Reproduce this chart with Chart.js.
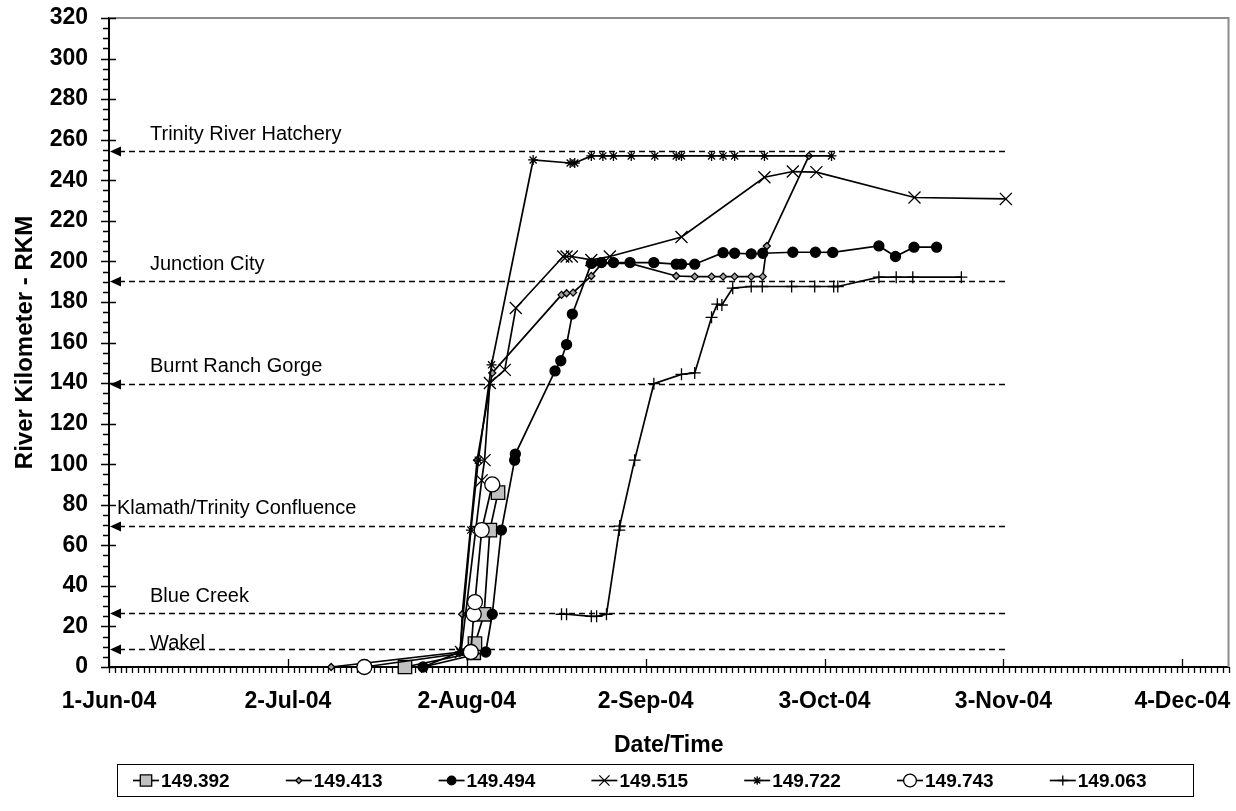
<!DOCTYPE html>
<html>
<head>
<meta charset="utf-8">
<script src="https://cdn.jsdelivr.net/npm/chart.js@4.4.1/dist/chart.umd.min.js"></script>
<style>
  html, body { margin: 0; padding: 0; background: #fff; }
  canvas { display: block; }
</style>
</head>
<body>
<canvas id="rkmChart" width="1236" height="811"></canvas>
<script>
// axis range and tick labels (x ticks every 31 days from 1-Jun-04)
const startDate = '2004-06-01 00';
const endDate = '2004-12-12 00';
const xTickLabels = ['1-Jun-04', '2-Jul-04', '2-Aug-04', '2-Sep-04', '3-Oct-04', '3-Nov-04', '4-Dec-04'];
const yMin = 0, yMax = 320, yStep = 20;

const seriesNames = ['149.392', '149.413', '149.494', '149.515', '149.722', '149.743', '149.063'];

// detections, "YYYY-MM-DD HH" and river km
const dates392 = ['2004-07-22 07', '2004-08-03 05', '2004-08-03 10', '2004-08-05 00', '2004-08-06 00', '2004-08-07 10'];
const rkm392 = [0, 7, 11.5, 26, 67.5, 86];

const dates413 = ['2004-07-09 12', '2004-07-31 22', '2004-08-01 05', '2004-08-03 19', '2004-08-06 10', '2004-08-18 10',
  '2004-08-19 07', '2004-08-20 10', '2004-08-23 14', '2004-08-25 10', '2004-08-30 07', '2004-09-07 07', '2004-09-10 12',
  '2004-09-13 10', '2004-09-15 10', '2004-09-17 10', '2004-09-20 07', '2004-09-22 07', '2004-09-23 00', '2004-09-30 07'];
const rkm413 = [0, 7.4, 26, 102, 145, 183.5, 184.3, 184.6, 192.8, 199, 199, 192.8, 192.5, 192.5, 192.5, 192.5, 192.5, 192.5, 207.6, 252];

const dates494 = ['2004-07-25 10', '2004-08-05 07', '2004-08-06 10', '2004-08-08 00', '2004-08-10 07', '2004-08-10 10',
  '2004-08-17 07', '2004-08-18 07', '2004-08-19 07', '2004-08-20 07', '2004-08-23 14', '2004-08-25 08', '2004-08-27 10',
  '2004-08-30 07', '2004-09-03 10', '2004-09-07 07', '2004-09-08 05', '2004-09-10 12', '2004-09-15 10', '2004-09-17 10',
  '2004-09-20 07', '2004-09-22 07', '2004-09-27 12', '2004-10-01 10', '2004-10-04 10', '2004-10-12 10', '2004-10-15 07',
  '2004-10-18 12', '2004-10-22 10'];
const rkm494 = [0, 7.4, 26, 67.5, 102, 105, 146, 151, 159, 174, 199, 199.4, 199.4, 199.4, 199.4, 198.6, 198.6, 198.6,
  204.3, 204, 203.7, 204, 204.5, 204.5, 204.4, 207.6, 202.4, 207, 207];

const dates515 = ['2004-08-01 00', '2004-08-04 14', '2004-08-05 02', '2004-08-06 00', '2004-08-08 14', '2004-08-10 12',
  '2004-08-18 17', '2004-08-19 07', '2004-08-20 05', '2004-08-23 14', '2004-08-26 19', '2004-09-08 05', '2004-09-22 14',
  '2004-09-27 12', '2004-10-01 14', '2004-10-18 14', '2004-11-03 10'];
const rkm515 = [7.4, 92, 102, 140, 146.5, 177, 202.4, 202.4, 202.4, 200.7, 202.4, 212, 241.5, 244.3, 244, 231.5, 230.8];

const dates722 = ['2004-07-25 10', '2004-07-31 19', '2004-08-02 17', '2004-08-04 00', '2004-08-06 07', '2004-08-13 12',
  '2004-08-19 22', '2004-08-20 17', '2004-08-23 14', '2004-08-25 14', '2004-08-27 10', '2004-08-30 12', '2004-09-03 14',
  '2004-09-07 07', '2004-09-08 05', '2004-09-13 10', '2004-09-15 10', '2004-09-17 10', '2004-09-22 14', '2004-10-04 05'];
const rkm722 = [0, 7.4, 67.5, 102, 149, 250, 248.5, 248.5, 252, 252, 252, 252, 252, 252, 252, 252, 252, 252, 252, 252];

const dates743 = ['2004-07-15 06', '2004-08-02 17', '2004-08-03 05', '2004-08-03 10', '2004-08-04 14', '2004-08-06 10'];
const rkm743 = [0, 7.4, 26, 32, 67.5, 90];

const dates063 = ['2004-08-18 10', '2004-08-19 07', '2004-08-23 14', '2004-08-24 12', '2004-08-26 05', '2004-08-28 10',
  '2004-08-28 12', '2004-08-31 02', '2004-09-03 10', '2004-09-08 05', '2004-09-10 12', '2004-09-13 10', '2004-09-14 10',
  '2004-09-15 05', '2004-09-17 02', '2004-09-20 07', '2004-09-22 05', '2004-09-27 07', '2004-10-01 07', '2004-10-04 14',
  '2004-10-05 07', '2004-10-12 10', '2004-10-15 10', '2004-10-18 07', '2004-10-26 17'];
const rkm063 = [26, 26, 25, 25, 26, 67.5, 69.5, 102, 139.7, 144.3, 145, 172.4, 178.9, 178.5, 186.8, 187.6, 187.6, 187.6,
  187.6, 187.6, 187.6, 192.2, 192.2, 192.2, 192.2];

// landmarks drawn as dashed lines
const refNames = ['Trinity River Hatchery', 'Junction City', 'Burnt Ranch Gorge', 'Klamath/Trinity Confluence', 'Blue Creek', 'Wakel'];
const refRkm = [254.2, 190.5, 139.3, 69.5, 26.6, 8.7];
const refEndDate = '2004-11-03 16';

const FONT = '"Liberation Sans", Arial, sans-serif';

function dayOf(s) {
  const [d, h] = s.split(' ');
  const [yy, mm, dd] = d.split('-').map(Number);
  return (Date.UTC(yy, mm - 1, dd, +(h || 0)) - Date.UTC(2004, 5, 1)) / 864e5;
}

const allDates = [dates392, dates413, dates494, dates515, dates722, dates743, dates063];
const allRkm = [rkm392, rkm413, rkm494, rkm515, rkm722, rkm743, rkm063];

const markerStyles = [
  { pointStyle: 'rect', radius: 9.5, fill: '#c0c0c0' },
  { pointStyle: 'rectRot', radius: 3.5, fill: '#a0a0a0' },
  { pointStyle: 'circle', radius: 5, fill: '#000' },
  { pointStyle: 'crossRot', radius: 8.5, fill: '#000' },
  { pointStyle: 'star', radius: 5, fill: '#000' },
  { pointStyle: 'circle', radius: 7.5, fill: '#fff' },
  { pointStyle: 'cross', radius: 6, fill: '#000' }
];

const datasets = seriesNames.map((name, i) => ({
  label: name,
  data: allDates[i].map((d, j) => ({ x: dayOf(d), y: allRkm[i][j] })),
  showLine: true,
  borderColor: '#000',
  borderWidth: 1.7,
  pointStyle: markerStyles[i].pointStyle,
  pointRadius: markerStyles[i].radius,
  pointBackgroundColor: markerStyles[i].fill,
  pointBorderColor: '#000',
  pointBorderWidth: 1.3,
  clip: false,
  order: seriesNames.length - i
}));

const decor = {
  id: 'decor',
  beforeDatasetsDraw(chart) {
    const { ctx, chartArea: a, scales: { x, y } } = chart;
    ctx.save();
    // plot frame (top, right)
    ctx.strokeStyle = '#8c8c8c';
    ctx.lineWidth = 2;
    ctx.beginPath();
    ctx.moveTo(a.left, a.top);
    ctx.lineTo(a.right, a.top);
    ctx.lineTo(a.right, a.bottom);
    ctx.stroke();

    // major + minor ticks
    ctx.strokeStyle = '#000';
    ctx.lineWidth = 1.3;
    ctx.beginPath();
    for (let v = yMin; v <= yMax; v += 5) {
      const py = Math.round(y.getPixelForValue(v)) + 0.5;
      const major = v % yStep === 0;
      ctx.moveTo(a.left - (major ? 8 : 6), py);
      ctx.lineTo(a.left + (major ? 7 : 0), py);
    }
    for (let d = x.min; d <= x.max; d++) {
      const px = Math.round(x.getPixelForValue(d)) + 0.5;
      const major = (d - x.min) % 31 === 0;
      ctx.moveTo(px, a.bottom + 6);
      ctx.lineTo(px, a.bottom - (major ? 8 : 0));
    }
    ctx.stroke();

    // landmark lines with arrow at the axis
    const xEnd = x.getPixelForValue(dayOf(refEndDate));
    const labelX = [150, 150, 150, 117, 150, 150];
    const labelDy = [-17, -17, -18, -18, -17, -6];
    ctx.font = '20px ' + FONT;
    ctx.textBaseline = 'middle';
    ctx.textAlign = 'left';
    refRkm.forEach((v, i) => {
      const py = Math.round(y.getPixelForValue(v)) + 0.5;
      ctx.setLineDash([6, 4]);
      ctx.lineWidth = 1.7;
      ctx.strokeStyle = '#000';
      ctx.beginPath();
      ctx.moveTo(a.left + 10, py);
      ctx.lineTo(xEnd, py);
      ctx.stroke();
      ctx.setLineDash([]);
      ctx.fillStyle = '#000';
      ctx.beginPath();
      ctx.moveTo(a.left + 1, py);
      ctx.lineTo(a.left + 12, py - 5);
      ctx.lineTo(a.left + 12, py + 5);
      ctx.closePath();
      ctx.fill();
      ctx.fillText(refNames[i], labelX[i], py + labelDy[i]);
    });
    ctx.restore();
  },
  afterDraw(chart) {
    const { ctx } = chart;
    ctx.save();
    ctx.strokeStyle = '#000';
    ctx.lineWidth = 1;
    ctx.strokeRect(117.5, 764.5, 1076, 32);
    const cy = 780.5;
    ctx.font = 'bold 19px ' + FONT;
    ctx.textBaseline = 'middle';
    ctx.textAlign = 'left';
    seriesNames.forEach((name, i) => {
      const x0 = 133 + i * 152.8;
      ctx.strokeStyle = '#000';
      ctx.lineWidth = 1.7;
      ctx.beginPath();
      ctx.moveTo(x0, cy);
      ctx.lineTo(x0 + 26, cy);
      ctx.stroke();
      ctx.fillStyle = markerStyles[i].fill;
      ctx.lineWidth = 1.3;
      Chart.helpers.drawPoint(ctx, {
        pointStyle: markerStyles[i].pointStyle,
        radius: markerStyles[i].radius * 0.85,
        rotation: 0,
        borderWidth: 1.3
      }, x0 + 13, cy);
      ctx.fillStyle = '#000';
      ctx.fillText(name, x0 + 28, cy + 1);
    });
    ctx.restore();
  }
};

new Chart(document.getElementById('rkmChart'), {
  type: 'scatter',
  data: { datasets },
  options: {
    responsive: false,
    animation: false,
    devicePixelRatio: 1,
    layout: { autoPadding: false, padding: { top: 18, right: 7.5, bottom: 52, left: 0 } },
    plugins: { legend: { display: false }, tooltip: { enabled: false } },
    scales: {
      x: {
        type: 'linear',
        min: dayOf(startDate),
        max: dayOf(endDate),
        afterFit: s => { s.height = 92; },
        grid: { display: false, drawTicks: true, tickLength: 21 },
        border: { display: true, color: '#000', width: 2 },
        ticks: {
          stepSize: 31,
          includeBounds: false,
          autoSkip: false,
          maxRotation: 0,
          padding: 0,
          color: '#000',
          font: { family: FONT, size: 23, weight: 'bold' },
          callback: (v, i) => xTickLabels[i]
        },
        title: {
          display: true,
          text: 'Date/Time',
          color: '#000',
          padding: { top: 0, bottom: 0 },
          font: { family: FONT, size: 23, weight: 'bold' }
        }
      },
      y: {
        min: yMin,
        max: yMax,
        afterFit: s => { s.width = 109; },
        grid: { display: false, drawTicks: true, tickLength: 21 },
        border: { display: true, color: '#000', width: 2 },
        ticks: {
          stepSize: yStep,
          padding: 0,
          color: '#000',
          font: { family: FONT, size: 23, weight: 'bold' }
        },
        title: {
          display: true,
          text: 'River Kilometer - RKM',
          color: '#000',
          padding: { top: 11, bottom: 0 },
          font: { family: FONT, size: 24, weight: 'bold' }
        }
      }
    }
  },
  plugins: [decor]
});
</script>
</body>
</html>
